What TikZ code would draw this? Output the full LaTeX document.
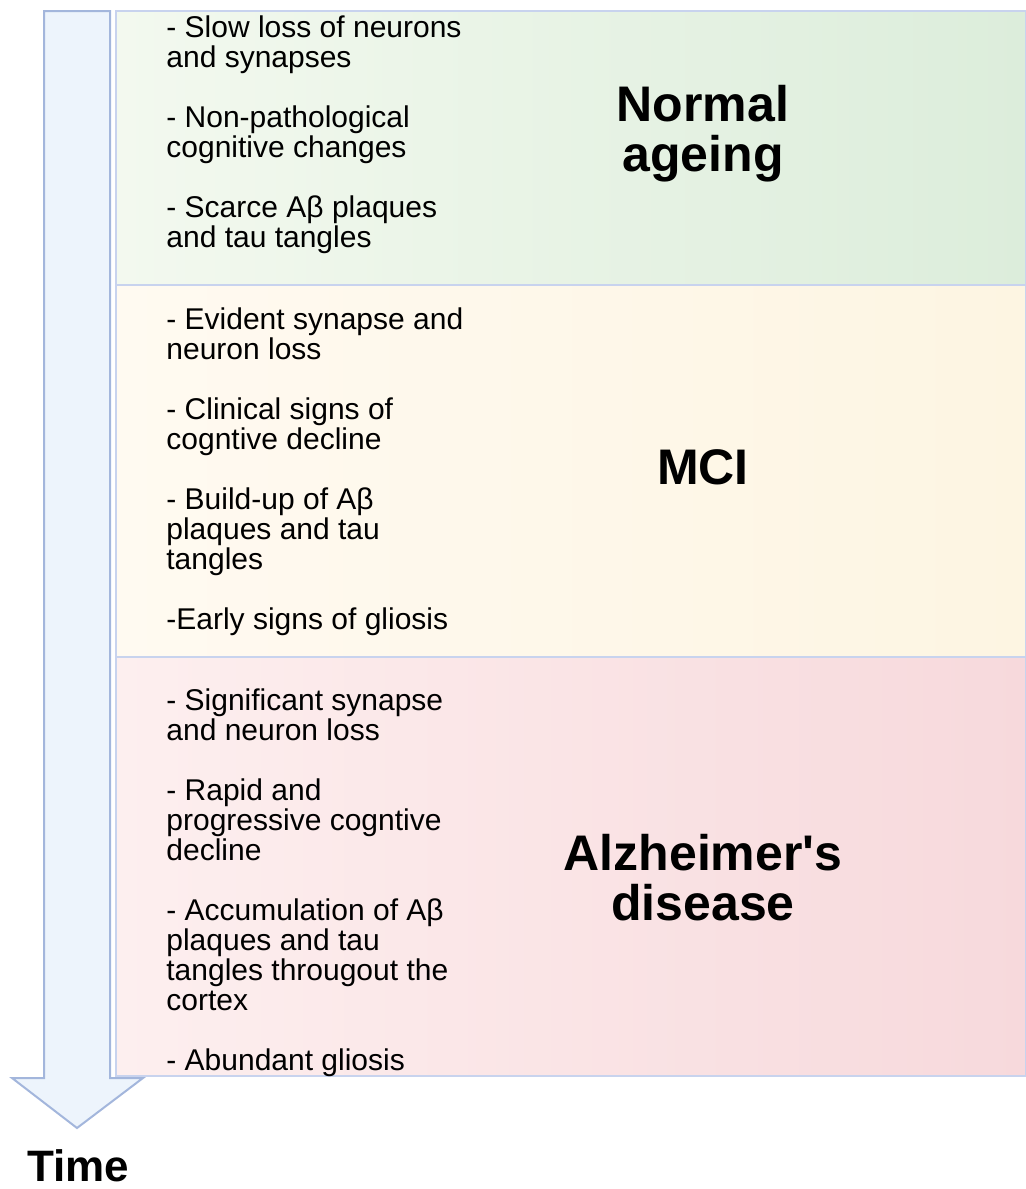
\documentclass[tikz,border=0pt]{standalone}
\usepackage{fontspec}
\setmainfont{Liberation Sans}
\usetikzlibrary{positioning}

\definecolor{arrowfill}{RGB}{237,244,252}
\definecolor{arrowline}{RGB}{163,182,220}
\definecolor{boxline}{RGB}{200,211,238}
\definecolor{greenL}{RGB}{243,249,239}
\definecolor{greenR}{RGB}{220,237,219}
\definecolor{yellowL}{RGB}{255,250,241}
\definecolor{yellowR}{RGB}{253,245,226}
\definecolor{pinkL}{RGB}{253,239,239}
\definecolor{pinkR}{RGB}{247,217,220}

\tikzset{
  stagebox/.style={draw=boxline, line width=1pt, minimum width=455pt, inner sep=0pt, shading=axis, shading angle=90},
  itemtext/.style={anchor=north west, inner sep=0pt, align=left, font=\fontsize{15}{15}\selectfont},
  stagelabel/.style={align=center, inner sep=0pt, font=\fontsize{25}{25}\selectfont\bfseries}
}

\begin{document}
\begin{tikzpicture}[x=0.5pt, y=-0.5pt]
  \useasboundingbox (0,0) rectangle (1026,1189);

  % Zeitpfeil links
  \draw[draw=arrowline, fill=arrowfill, line width=1pt, line join=miter]
    (44,11) -- (110,11) -- (110,1078) -- (143,1078) -- (77,1128) -- (12,1078) -- (44,1078) -- cycle;
  \node[font=\fontsize{22}{22}\selectfont\bfseries, inner sep=0pt] (time) at (78,1166) {Time};

  % drei Stadien
  \node[stagebox, left color=greenL, right color=greenR, minimum height=137pt] (normal) at (571,148) {};
  \node[stagebox, left color=yellowL, right color=yellowR, minimum height=186pt] (mci) at (571,471) {};
  \node[stagebox, left color=pinkL, right color=pinkR, minimum height=209.5pt] (ad) at (571,866.5) {};

  \node[itemtext] (normaltext) at (166,15) {- Slow loss of neurons\\and synapses\\[15pt]- Non-pathological\\cognitive changes\\[15pt]- Scarce Aβ plaques\\and tau tangles};
  \node[itemtext] (mcitext) at (166,307) {- Evident synapse and\\neuron loss\\[15pt]- Clinical signs of\\cogntive decline\\[15pt]- Build-up of Aβ\\plaques and tau\\tangles\\[15pt]-Early signs of gliosis};
  \node[itemtext] (adtext) at (166,688) {- Significant synapse\\and neuron loss\\[15pt]- Rapid and\\progressive cogntive\\decline\\[15pt]- Accumulation of Aβ\\plaques and tau\\tangles througout the\\cortex\\[15pt]- Abundant gliosis};

  \node[stagelabel] (normallabel) at (703,134) {Normal\\ageing};
  \node[stagelabel] (mcilabel) at (703,467) {MCI};
  \node[stagelabel] (adlabel) at (703,878) {Alzheimer\textquotesingle s\\disease};
\end{tikzpicture}
\end{document}
